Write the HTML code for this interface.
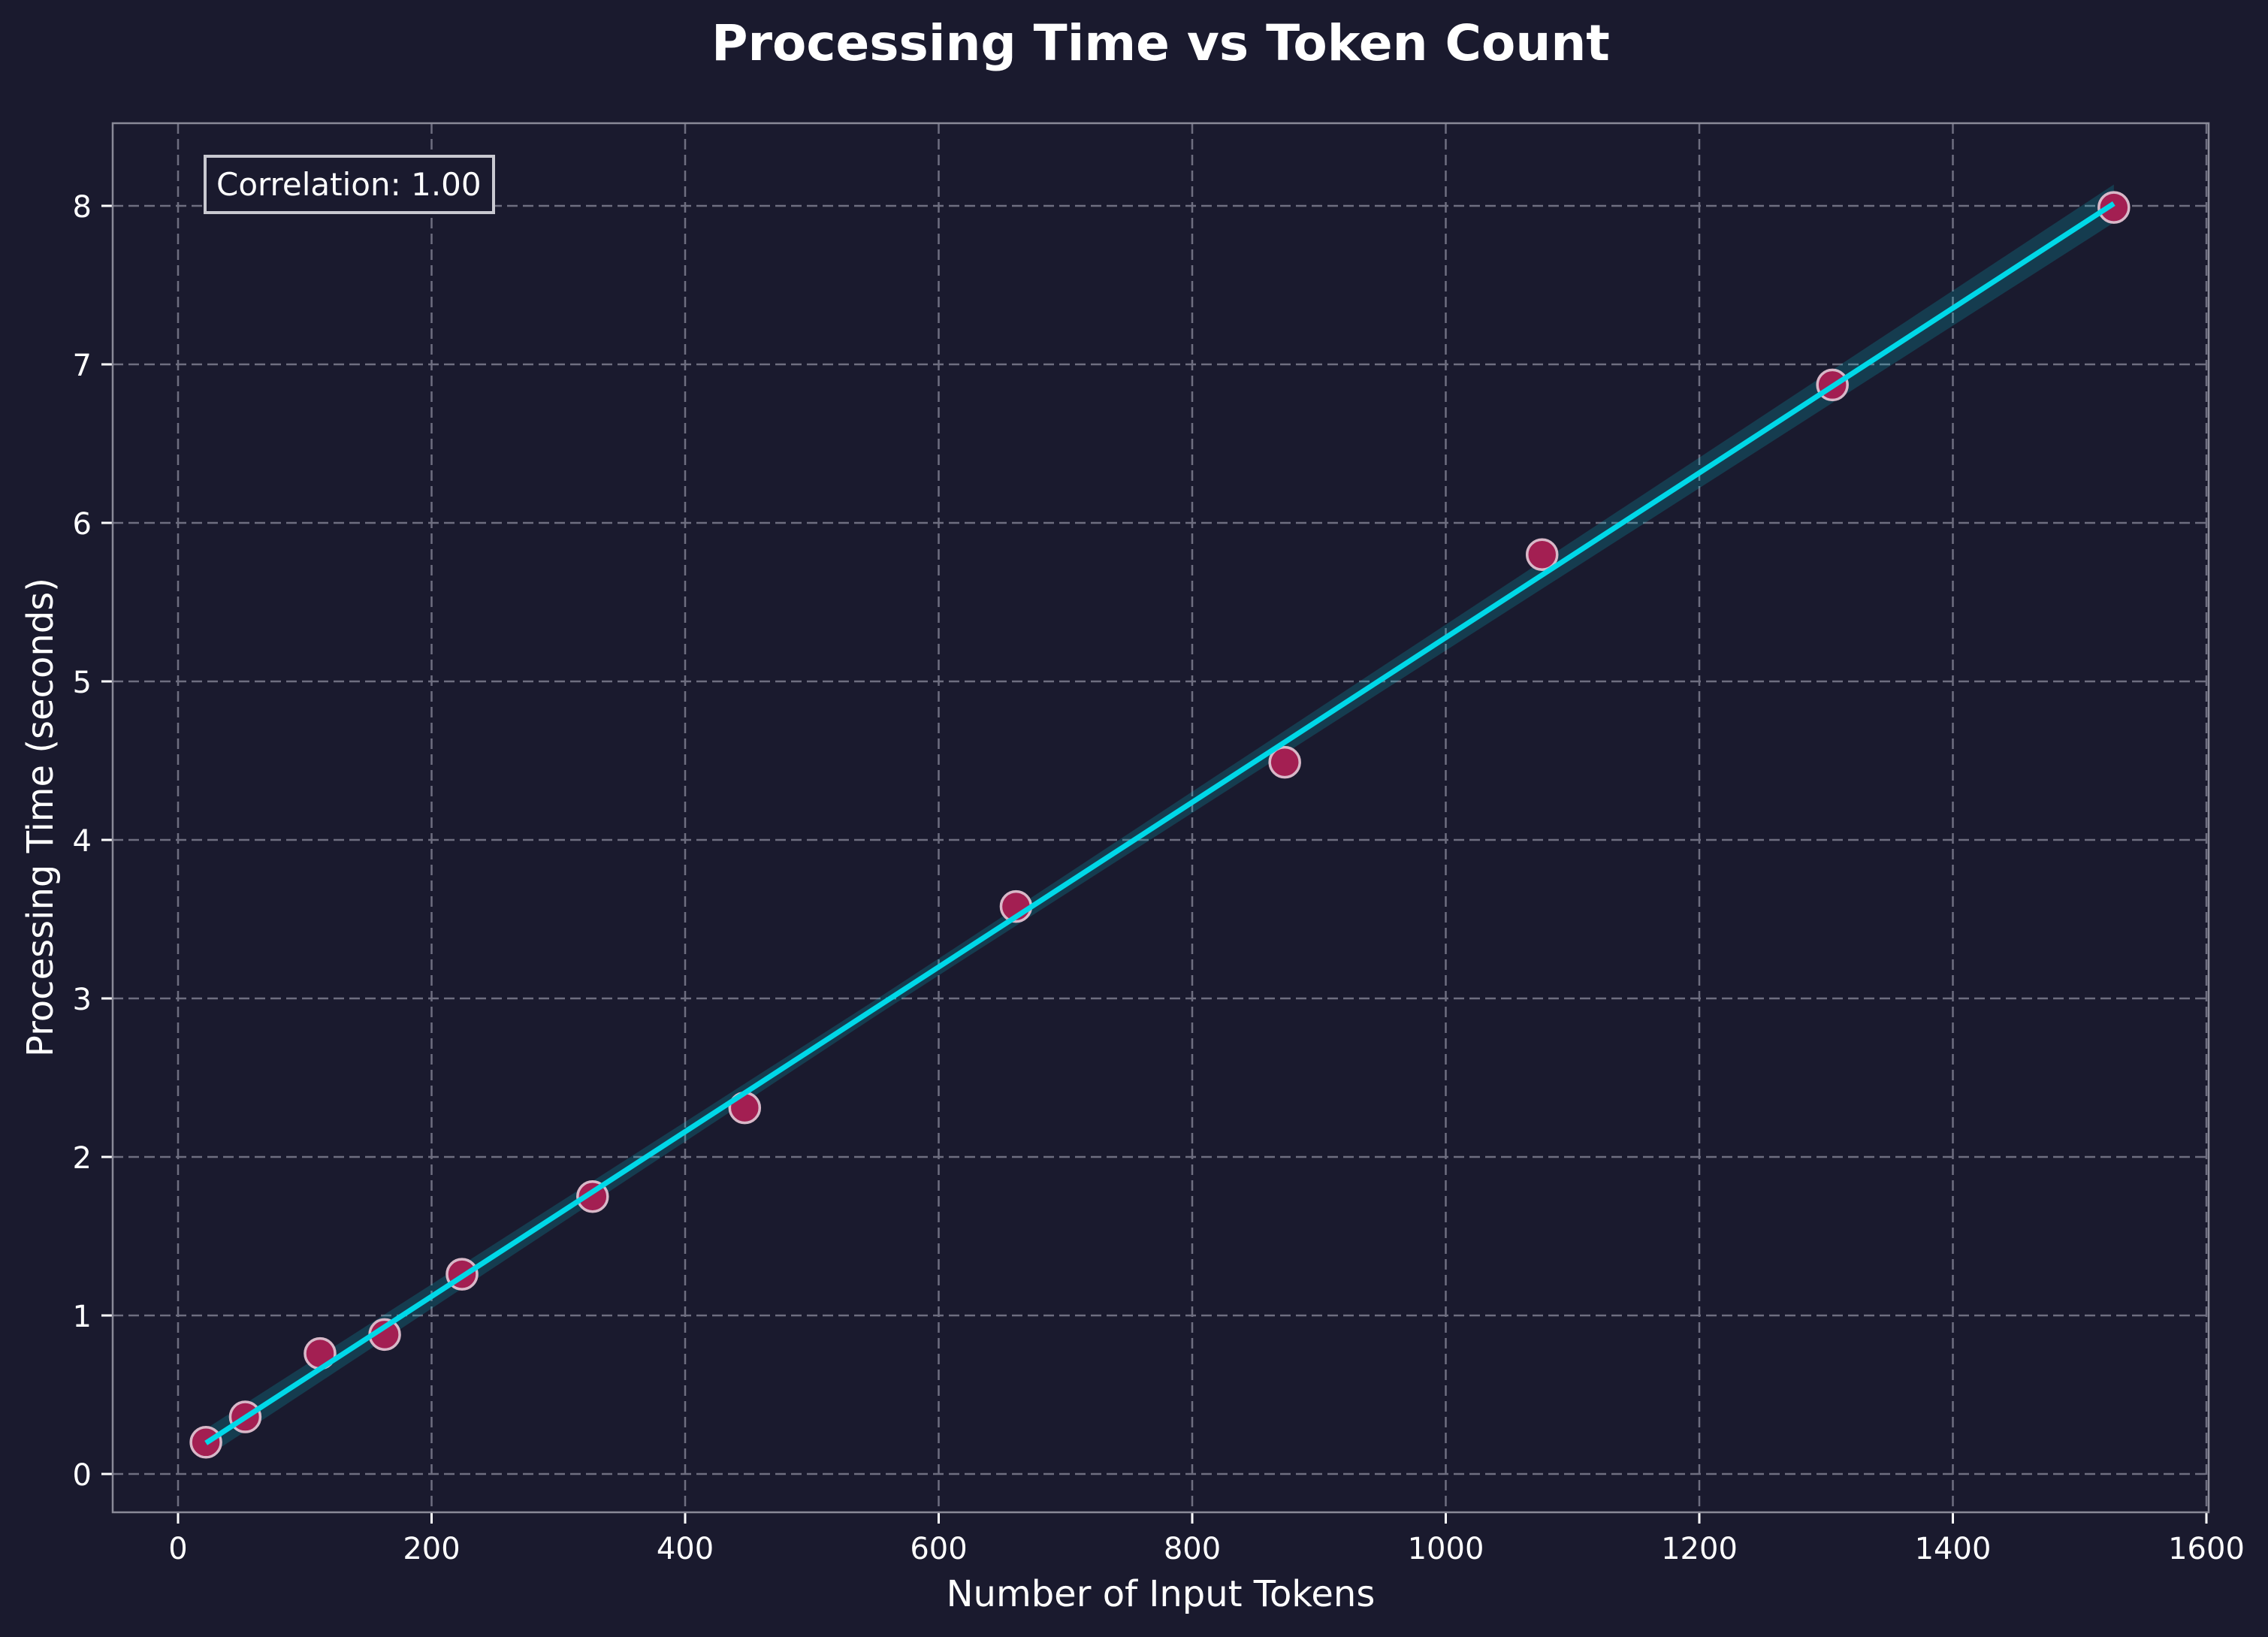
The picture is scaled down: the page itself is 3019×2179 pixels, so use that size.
<!DOCTYPE html>
<html><head><meta charset="utf-8"><style>
html,body{margin:0;padding:0;background:#1a1a2e;}
svg{display:block;font-family:"DejaVu Sans","Liberation Sans",sans-serif;}
</style></head><body>
<svg id="chart" width="3019" height="2179" viewBox="0 0 3019 2179" xmlns="http://www.w3.org/2000/svg">
<rect width="3019" height="2179" fill="#1a1a2e"/>
<text x="1545" y="80" text-anchor="middle" font-size="66" font-weight="bold" fill="#ffffff">Processing Time vs Token Count</text>
<text x="1545" y="2138" text-anchor="middle" font-size="48" fill="#ffffff">Number of Input Tokens</text>
<text transform="translate(70,1088) rotate(-90)" text-anchor="middle" font-size="48" fill="#ffffff">Processing Time (seconds)</text>
<g id="grid"></g>
<g id="axes"></g>
<g id="plot"></g>
<g>
<rect x="273" y="208" width="384" height="75" fill="#1a1a2e" stroke="#c8c8d0" stroke-width="4"/>
<text x="288" y="260" font-size="42" fill="#ffffff">Correlation: 1.00</text>
</g>
</svg>
<script>
const tokens = [22, 53, 112, 163, 224, 327, 447, 661, 873, 1076, 1305, 1527];
const times = [0.20, 0.36, 0.76, 0.88, 1.26, 1.75, 2.31, 3.58, 4.49, 5.80, 6.87, 7.99];
const xTicks = [0, 200, 400, 600, 800, 1000, 1200, 1400, 1600];
const yTicks = [0, 1, 2, 3, 4, 5, 6, 7, 8];

const NS = "http://www.w3.org/2000/svg";
const L = 150, R = 2940, T = 164, B = 2013;
const X = v => 237 + (v - 0) * 1.6875;
const Y = v => 1962 - v * 211;
function mk(tag, attrs, parent) {
  const e = document.createElementNS(NS, tag);
  for (const k in attrs) e.setAttribute(k, attrs[k]);
  parent.appendChild(e);
  return e;
}
const grid = document.getElementById('grid');
const axes = document.getElementById('axes');
const plot = document.getElementById('plot');

xTicks.forEach(t => {
  const x = X(t);
  const g = mk('line', {x1: x, x2: x, y1: T, y2: B, stroke: '#6e6e80', 'stroke-width': 2.5, 'stroke-dasharray': '14,7'}, grid);
  
  
  const tk = mk('line', {x1: x, x2: x, y1: B, y2: B + 15, stroke: '#ffffff', 'stroke-width': 3}, axes);
  
  
  const lb = mk('text', {x: x, y: B + 62, 'text-anchor': 'middle', 'font-size': 40, fill: '#ffffff'}, axes);
  lb.textContent = t;
  
  
});
yTicks.forEach(t => {
  const y = Y(t);
  const g = mk('line', {x1: L, x2: R, y1: y, y2: y, stroke: '#6e6e80', 'stroke-width': 2.5, 'stroke-dasharray': '14,7'}, grid);
  
  
  const tk = mk('line', {x1: L - 15, x2: L, y1: y, y2: y, stroke: '#ffffff', 'stroke-width': 3}, axes);
  
  
  const lb = mk('text', {x: L - 28, y: y + 15, 'text-anchor': 'end', 'font-size': 40, fill: '#ffffff'}, axes);
  lb.textContent = t;
  
  
});
const frame = mk('rect', {x: L, y: T, width: R - L, height: B - T, fill: 'none', stroke: '#8a8a98', 'stroke-width': 2.5}, axes);



const n = tokens.length;
const mx = tokens.reduce((a, b) => a + b) / n, my = times.reduce((a, b) => a + b) / n;
let sxy = 0, sxx = 0;
for (let i = 0; i < n; i++) { sxy += (tokens[i] - mx) * (times[i] - my); sxx += (tokens[i] - mx) ** 2; }
const slope = sxy / sxx, icpt = my - slope * mx;
const x0 = Math.min(...tokens), x1 = Math.max(...tokens);
const f = v => icpt + slope * v;
const band = v => 0.05 + 0.07 * Math.abs(v - mx) / (x1 - mx);
const pts = [];
for (let k = 0; k <= 20; k++) { const v = x0 + (x1 - x0) * k / 20; pts.push(X(v) + ',' + Y(f(v) + band(v))); }
for (let k = 20; k >= 0; k--) { const v = x0 + (x1 - x0) * k / 20; pts.push(X(v) + ',' + Y(f(v) - band(v))); }
const bd = mk('polygon', {points: pts.join(' '), fill: '#00d8e8', 'fill-opacity': 0.18}, plot);



tokens.forEach((t, i) => {
  const c = mk('circle', {cx: X(t), cy: Y(times[i]), r: 20, fill: '#a31f52', stroke: '#d8b8c8', 'stroke-width': 3.5}, plot);
  
  
});
const ln = mk('line', {x1: X(x0), y1: Y(f(x0)), x2: X(x1), y2: Y(f(x1)), stroke: '#00d8e8', 'stroke-width': 7}, plot);


</script>
</body></html>
